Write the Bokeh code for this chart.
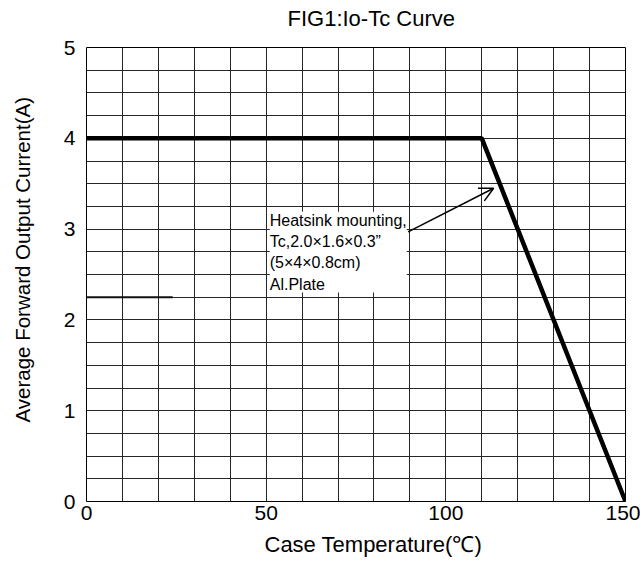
from bokeh.plotting import figure
from bokeh.models import Range1d, FixedTicker, Title, Arrow, OpenHead, Label
from bokeh.embed import file_html
from bokeh.resources import INLINE

# ---- data ----
case_temp = [0, 110, 150]          # degC
io_current = [4.0, 4.0, 0.0]       # A

x_ticks = [0, 50, 100, 150]
y_ticks = [0, 1, 2, 3, 4, 5]
x_grid = list(range(0, 151, 10))
y_grid = [i * 0.25 for i in range(0, 21)]

title_text = "FIG1:Io-Tc Curve"
x_label_text = "Case Temperature(\u2103)"
y_label_text = "Average Forward Output Current(A)"
note_text = "Heatsink mounting,\nTc,2.0\u00d71.6\u00d70.3\u201d\n(5\u00d74\u00d70.8cm)\nAl.Plate"
arrow_start = (89.5, 2.97)
arrow_end = (113.3, 3.45)

# scan artefact: darker grid segment
mark_x = [0, 24]
mark_y = [2.25, 2.25]

FONT = "Liberation Sans"

p = figure(width=640, height=562,
           x_range=Range1d(0, 150), y_range=Range1d(0, 5),
           output_backend="svg", toolbar_location=None,
           min_border_left=86, min_border_right=15,
           min_border_top=47, min_border_bottom=61)

# title: an empty second line lifts the visible line within its panel
p.title.text = title_text + "\n"
p.title.align = "left"
p.title.offset = 201
p.title.standoff = 0
p.title.vertical_align = "top"
p.title.text_line_height = 0.58
p.title.text_font = FONT
p.title.text_font_size = "22px"
p.title.text_font_style = "normal"
p.title.text_color = "black"

p.outline_line_color = "black"
p.outline_line_width = 1

for ax in (p.xaxis[0], p.yaxis[0]):
    ax.axis_line_color = None
    ax.major_tick_line_color = None
    ax.minor_tick_line_color = None
    ax.major_tick_out = 0
    ax.major_tick_in = 0
    ax.major_label_text_font = FONT
    ax.major_label_text_font_size = "21px"
    ax.major_label_text_color = "black"

p.xaxis.ticker = FixedTicker(ticks=x_ticks)
p.yaxis.ticker = FixedTicker(ticks=y_ticks)
p.xaxis.major_label_standoff = 4
p.yaxis.major_label_standoff = 11

p.xgrid.ticker = FixedTicker(ticks=x_grid)
p.ygrid.ticker = FixedTicker(ticks=y_grid)
for g in (p.xgrid[0], p.ygrid[0]):
    g.grid_line_color = "#262626"
    g.grid_line_width = 1

xt = Title(text="\n" + x_label_text, align="left", offset=178,
           vertical_align="bottom", text_line_height=0.28,
           text_font=FONT, text_font_size="22px", text_font_style="normal",
           text_color="black", standoff=0)
p.add_layout(xt, "below")

yt = Title(text=y_label_text + "\n", align="left", offset=79,
           vertical_align="top", text_line_height=1.1,
           text_font=FONT, text_font_size="20.5px", text_font_style="normal",
           text_color="black", standoff=0)
p.add_layout(yt, "left")

# artefact segment
p.line(mark_x, mark_y, line_color="#111111", line_width=2)

# derating curve
p.line(case_temp, io_current, line_color="black", line_width=4.5)

# annotation
p.add_layout(Label(x=51.0, y=3.19, text=note_text, text_font=FONT,
                   text_font_size="16px", text_baseline="top", text_align="left",
                   text_line_height=1.25,
                   background_fill_color="white", text_color="black"))
p.add_layout(Arrow(end=OpenHead(size=14, line_width=1.5, line_color="black"),
                   x_start=arrow_start[0], y_start=arrow_start[1],
                   x_end=arrow_end[0], y_end=arrow_end[1],
                   line_color="black", line_width=1.5))

open("out.html", "w").write(file_html(p, INLINE))
